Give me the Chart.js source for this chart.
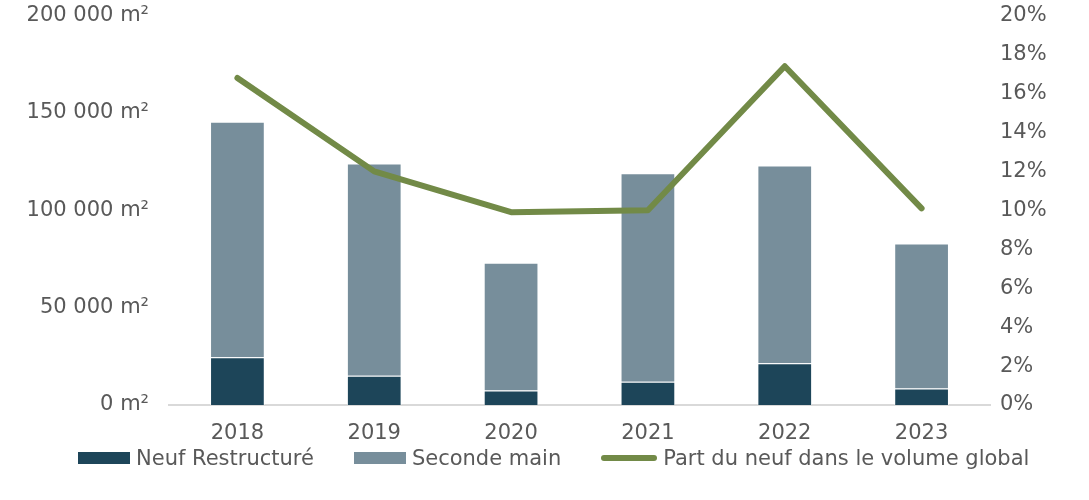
<!DOCTYPE html>
<html>
<head>
<meta charset="utf-8">
<script src="https://cdn.jsdelivr.net/npm/chart.js@4"></script>
<style>
  html, body { margin: 0; padding: 0; background: #ffffff; overflow: hidden; }
  #wrap { position: relative; width: 1089px; height: 500px; }
  #chart { position: absolute; left: 0; top: 0; }
  #legend { position: absolute; left: 78px; top: 446px; display: flex; align-items: center;
    font-family: "DejaVu Sans", sans-serif; font-size: 21px; color: #595959; white-space: nowrap; }
  .item { display: flex; align-items: center; margin-right: 40px; }
  .box { width: 52px; height: 12px; margin-right: 6px; }
  .line { width: 56px; height: 6px; border-radius: 3px; margin-right: 6px; }
</style>
</head>
<body>
<div id="wrap">
  <canvas id="chart" width="1089" height="500"></canvas>
  <div id="legend"></div>
</div>
<script>
// ============= DATA =============
const years = ['2018', '2019', '2020', '2021', '2022', '2023'];
const neufRestructure = [24500, 15000, 7500, 12000, 21500, 8500];
const secondeMain = [121000, 109000, 65500, 107000, 101500, 74500];
const partNeuf = [16.8, 12.0, 9.9, 10.0, 17.4, 10.1];

const COLOR_NEUF = '#1d4559';
const COLOR_SECONDE = '#778e9b';
const COLOR_LINE = '#728a47';
const TEXT = '#595959';
const FONT = { family: '"DejaVu Sans", sans-serif', size: 21 };
const PLOT_TOP = 16;

// format 150000 -> "150 000 m²"
function formatSurface(v) {
  return String(v).replace(/\B(?=(\d{3})+(?!\d))/g, ' ') + ' m²';
}

const canvas = document.getElementById('chart');

function makeChart() {
  return new Chart(canvas.getContext('2d'), {
    type: 'bar',
    data: {
      labels: years,
      datasets: [
        {
          type: 'line',
          label: 'Part du neuf dans le volume global',
          data: partNeuf,
          yAxisID: 'y1',
          borderColor: COLOR_LINE,
          borderWidth: 6,
          borderCapStyle: 'round',
          borderJoinStyle: 'round',
          pointRadius: 0,
          tension: 0,
          order: 0
        },
        {
          label: 'Neuf Restructuré',
          data: neufRestructure,
          backgroundColor: COLOR_NEUF,
          borderColor: 'rgba(255,255,255,0.6)',
          borderWidth: 1,
          stack: 's',
          order: 1,
          categoryPercentage: 1,
          barPercentage: 0.4
        },
        {
          label: 'Seconde main',
          data: secondeMain,
          backgroundColor: COLOR_SECONDE,
          borderColor: 'rgba(255,255,255,0.6)',
          borderWidth: 1,
          stack: 's',
          order: 1,
          categoryPercentage: 1,
          barPercentage: 0.4
        }
      ]
    },
    options: {
      responsive: false,
      animation: false,
      layout: { padding: 0 },
      plugins: {
        legend: { display: false },
        tooltip: { enabled: false }
      },
      scales: {
        x: {
          stacked: true,
          grid: { display: false, drawTicks: false },
          border: { color: '#d9d9d9', width: 2 },
          ticks: { color: TEXT, font: FONT, padding: 16 },
          afterFit: (scale) => { scale.height = 95; }
        },
        y: {
          stacked: true,
          position: 'left',
          min: 0,
          max: 200000,
          grid: { display: false, drawTicks: false },
          border: { display: false },
          ticks: { stepSize: 50000, color: TEXT, font: FONT, padding: 20, callback: (v) => formatSurface(v) },
          afterFit: (scale) => { scale.width = 169; }
        },
        y1: {
          position: 'right',
          min: 0,
          max: 20,
          grid: { display: false, drawTicks: false },
          border: { display: false },
          ticks: { stepSize: 2, color: TEXT, font: FONT, padding: 10, callback: (v) => v + '%' },
          afterFit: (scale) => { scale.width = 99; }
        }
      }
    }
  });
}

let chart = makeChart();

// Chart.js reserves extra room above the plot; grow the canvas and shift it up
// so the plot top lands at PLOT_TOP and the axis stays at y = 405
const extra = Math.round(chart.chartArea.top - PLOT_TOP);
if (extra > 0) {
  chart.destroy();
  canvas.width = 1089;
  canvas.height = 500 + extra;
  canvas.style.top = (-extra) + 'px';
  chart = makeChart();
}

// Custom legend
const legend = document.getElementById('legend');
[
  { label: 'Neuf Restructuré', color: COLOR_NEUF, cls: 'box' },
  { label: 'Seconde main', color: COLOR_SECONDE, cls: 'box' },
  { label: 'Part du neuf dans le volume global', color: COLOR_LINE, cls: 'line' }
].forEach(item => {
  const el = document.createElement('div');
  el.className = 'item';
  el.innerHTML = `<div class="${item.cls}" style="background:${item.color}"></div><span>${item.label}</span>`;
  legend.appendChild(el);
});
</script>
</body>
</html>
